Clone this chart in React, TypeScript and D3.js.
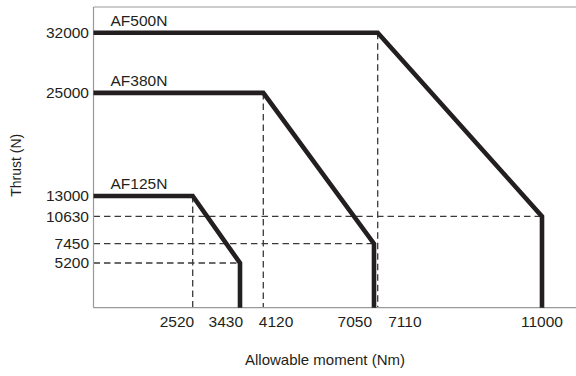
import React from "react";
import * as d3 from "d3";

// ---- data ----
const seriesNames = ["AF500N", "AF380N", "AF125N"];
// each series: [moment (Nm), thrust (N)] corner points
const af500nMoment = [0, 7110, 11000, 11000];
const af500nThrust = [32000, 32000, 10630, 0];
const af380nMoment = [0, 4120, 7050, 7050];
const af380nThrust = [25000, 25000, 7450, 0];
const af125nMoment = [0, 2520, 3430, 3430];
const af125nThrust = [13000, 13000, 5200, 0];

const xTickValues = [2520, 3430, 4120, 7050, 7110, 11000];
const yTickValues = [32000, 25000, 13000, 10630, 7450, 5200];

// guide lines: vertical [moment, top thrust], horizontal [thrust, right moment]
const guideVMoment = [2520, 4120, 7110];
const guideVThrust = [13000, 25000, 32000];
const guideHThrust = [10630, 7450, 5200];
const guideHMoment = [11000, 7050, 3430];

const xTitle = "Allowable moment (Nm)";
const yTitle = "Thrust (N)";

export default function App() {
  const W = 576;
  const H = 376;
  const left = 93.5;
  const bottom = 307.7;
  const top = 7;
  const right = 576;

  // schematic (piecewise) horizontal scale
  const x = d3
    .scaleLinear()
    .domain([0, 2520, 3430, 4120, 7050, 7110, 11000, 12000])
    .range([left, 192.7, 240, 263.3, 374, 377.7, 542, 584]);
  const y = d3.scaleLinear().domain([0, 35000]).range([bottom, top]);

  const ink = "#231f20";
  const font = "'Liberation Sans', Arial, Helvetica, sans-serif";

  const series = [
    { name: seriesNames[0], m: af500nMoment, t: af500nThrust },
    { name: seriesNames[1], m: af380nMoment, t: af380nThrust },
    { name: seriesNames[2], m: af125nMoment, t: af125nThrust },
  ];

  const line = d3
    .line<[number, number]>()
    .x((d) => x(d[0]))
    .y((d) => y(d[1]));

  const xLabelLayout: { anchor: string; dx: number }[] = [
    { anchor: "end", dx: 1.5 },
    { anchor: "end", dx: 3 },
    { anchor: "start", dx: -4.5 },
    { anchor: "end", dx: -2 },
    { anchor: "start", dx: 10.5 },
    { anchor: "middle", dx: 0 },
  ];

  return (
    <svg
      width={W}
      height={H}
      style={{ position: "absolute", left: 0, top: 0, background: "#fff" }}
      fontFamily={font}
    >
      {/* guide lines */}
      <g stroke="#3a3a3a" strokeWidth={1.3} strokeDasharray="6.5,4" fill="none">
        {guideVMoment.map((m, i) => (
          <line key={"v" + i} x1={x(m)} x2={x(m)} y1={y(guideVThrust[i])} y2={y(0)} />
        ))}
        {guideHThrust.map((t, i) => (
          <line key={"h" + i} x1={x(0)} x2={x(guideHMoment[i])} y1={y(t)} y2={y(t)} />
        ))}
      </g>

      {/* frame */}
      <g stroke="#999" strokeWidth={1.2} fill="none">
        <line x1={left} x2={left} y1={top} y2={bottom} />
        <line x1={left} x2={right} y1={bottom} y2={bottom} />
        <line x1={left} x2={right} y1={top} y2={top} />
      </g>

      {/* series */}
      {series.map((s) => {
        const pts = s.m.map((m, i) => [m, s.t[i]] as [number, number]);
        return (
          <g key={s.name}>
            <path d={line(pts) || ""} fill="none" stroke={ink} strokeWidth={4.6} strokeLinejoin="miter" />
            <text x={x(0) + 17} y={y(s.t[0]) - 7} fontSize={15.5} fill={ink}>
              {s.name}
            </text>
          </g>
        );
      })}

      {/* y ticks */}
      {yTickValues.map((v) => (
        <text key={v} x={left - 4.5} y={y(v)} dy="0.35em" textAnchor="end" fontSize={15.5} fill={ink}>
          {v}
        </text>
      ))}

      {/* x ticks */}
      {xTickValues.map((v, i) => (
        <text
          key={v}
          x={x(v) + xLabelLayout[i].dx}
          y={bottom + 19.5}
          textAnchor={xLabelLayout[i].anchor as any}
          fontSize={15.5}
          fill={ink}
        >
          {v}
        </text>
      ))}

      {/* titles */}
      <text x={325} y={365} textAnchor="middle" fontSize={15} fill={ink}>
        {xTitle}
      </text>
      <text
        transform={`translate(21,${(top + bottom) / 2 + 8}) rotate(-90)`}
        textAnchor="middle"
        fontSize={14}
        fill={ink}
      >
        {yTitle}
      </text>
    </svg>
  );
}
